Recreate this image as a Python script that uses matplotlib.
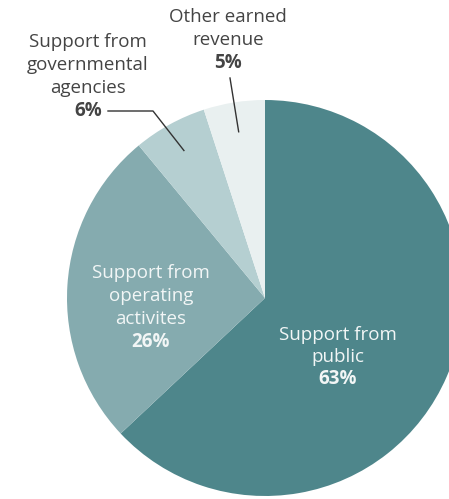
import matplotlib
matplotlib.use("Agg")
import matplotlib.pyplot as plt
import numpy as np

categories = ["Support from\npublic", "Support from\noperating\nactivites",
              "Support from\ngovernmental\nagencies", "Other earned\nrevenue"]
values = [63, 26, 6, 5]
pct_labels = ["63%", "26%", "6%", "5%"]
colors = ["#4e868b", "#85abaf", "#b5cfd1", "#e9f0f0"]

plt.rcParams['font.family'] = ['Open Sans', 'DejaVu Sans']

W, H = 449, 499
CX, CY, R = 265, 298, 198

fig = plt.figure(figsize=(W / 100, H / 100), dpi=100)
ax = fig.add_axes([0, 0, 1, 1])

ax.pie(values, colors=colors, startangle=90, counterclock=False, radius=1,
       wedgeprops=dict(linewidth=0))
ax.set_aspect('auto')
ax.set_xlim(-CX / R, (W - CX) / R)
ax.set_ylim(-(H - CY) / R, CY / R)
ax.axis('off')

def px(x, y):
    return ((x - CX) / R, (CY - y) / R)

fs = 13.5
inner_col = "#f2f6f6"
outer_col = "#444444"

def block(x, y_top, text, pct, color, step=23):
    lines = text.split("\n")
    for i, ln in enumerate(lines):
        ax.text(*px(x, y_top + i * step), ln, ha='center', va='center',
                fontsize=fs, color=color)
    ax.text(*px(x, y_top + len(lines) * step), pct, ha='center', va='center',
            fontsize=fs, color=color, fontweight='bold')

block(338, 335, categories[0], pct_labels[0], inner_col, step=22)
block(151, 273, categories[1], pct_labels[1], inner_col)
block(88, 42, categories[2], pct_labels[2], outer_col)
block(228, 17, categories[3], pct_labels[3], outer_col)

# leader lines
angles = []
start = 90.0
for v in values:
    span = v / sum(values) * 360
    angles.append(np.deg2rad(start - span / 2))
    start -= span

a = angles[2]
ex, ey = 0.85 * np.cos(a), 0.85 * np.sin(a)
p1 = px(108, 111)
p2 = px(153, 111)
ax.plot([p1[0], p2[0], ex], [p1[1], p2[1], ey], color="#333333", lw=1)

a = angles[3]
ex, ey = 0.85 * np.cos(a), 0.85 * np.sin(a)
p1 = px(230, 78)
ax.plot([p1[0], ex], [p1[1], ey], color="#333333", lw=1)

fig.savefig("out.png", dpi=100)
